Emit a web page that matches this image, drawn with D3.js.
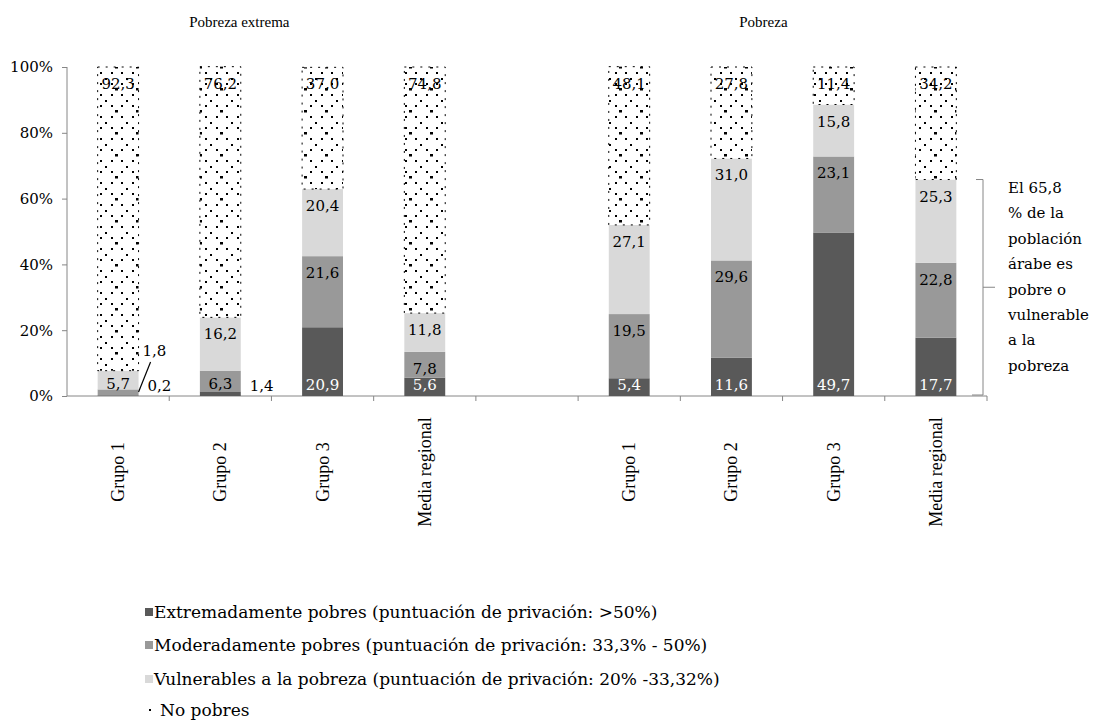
<!DOCTYPE html>
<html>
<head>
<meta charset="utf-8">
<script src="https://cdn.jsdelivr.net/npm/d3@7"></script>
<style>
  html, body { margin: 0; padding: 0; background: #fff; }
  svg { display: block; font-family: "DejaVu Serif", "Liberation Serif", serif; }
</style>
</head>
<body>
<svg id="chart" width="1096" height="721"></svg>
<script>
// Panels and categories
const panels = ["Pobreza extrema", "Pobreza"];
const groups = ["Grupo 1", "Grupo 2", "Grupo 3", "Media regional"];

// Shares of the population (%) per group, by deprivation level
const extremaExtremos    = [0.2, 1.4, 20.9, 5.6];
const extremaModerados   = [1.8, 6.3, 21.6, 7.8];
const extremaVulnerables = [5.7, 16.2, 20.4, 11.8];
const extremaNoPobres    = [92.3, 76.2, 37.0, 74.8];

const pobrezaExtremos    = [5.4, 11.6, 49.7, 17.7];
const pobrezaModerados   = [19.5, 29.6, 23.1, 22.8];
const pobrezaVulnerables = [27.1, 31.0, 15.8, 25.3];
const pobrezaNoPobres    = [48.1, 27.8, 11.4, 34.2];

const seriesNames = [
  "Extremadamente pobres (puntuación de privación: >50%)",
  "Moderadamente pobres (puntuación de privación: 33,3% - 50%)",
  "Vulnerables a la pobreza (puntuación de privación: 20% -33,32%)",
  "No pobres"
];
const seriesKeys = ["extremos", "moderados", "vulnerables", "noPobres"];
const yTicks = [0, 20, 40, 60, 80, 100];

const annotationLines = ["El 65,8", "% de la", "población", "árabe es", "pobre o", "vulnerable", "a la", "pobreza"];

// Build rows: one per bar, with a blank slot between the two panels
const panelSeries = [
  [extremaExtremos, extremaModerados, extremaVulnerables, extremaNoPobres],
  [pobrezaExtremos, pobrezaModerados, pobrezaVulnerables, pobrezaNoPobres]
];
const rows = [];
panels.forEach((p, pi) => {
  groups.forEach((g, gi) => {
    const r = { key: pi + "|" + g, panel: p, group: g };
    seriesKeys.forEach((k, si) => { r[k] = panelSeries[pi][si][gi]; });
    rows.push(r);
  });
});
const slots = rows.slice(0, 4).map(r => r.key).concat(["gap"], rows.slice(4).map(r => r.key));

const svg = d3.select("#chart");
const margin = { left: 67, right: 987, top: 67, bottom: 396 };

const x = d3.scaleBand().domain(slots).range([margin.left, margin.right]).paddingInner(0.6).paddingOuter(0.3);
const y = d3.scaleLinear().domain([0, 100]).range([margin.bottom, margin.top]);

const colors = { extremos: "#595959", moderados: "#999999", vulnerables: "#d9d9d9" };
const fmt = v => d3.format(".1f")(v).replace(".", ",");

// Dotted fill for "No pobres"
const defs = svg.append("defs");
const pat = defs.append("pattern").attr("id", "noPobres")
  .attr("patternUnits", "userSpaceOnUse").attr("width", 21).attr("height", 22);
pat.append("rect").attr("width", 21).attr("height", 22).attr("fill", "#fff");
[[10, 0, 3, 2.5], [6, 6, 2, 2], [16, 6, 2, 2], [0, 12, 2, 2], [6, 17, 2, 2], [16, 17, 2, 2]]
  .forEach(([px, py, w, h]) => pat.append("rect").attr("x", px).attr("y", py).attr("width", w).attr("height", h).attr("fill", "#000"));

// Axes
const axisColor = "#868686";
const stepW = x.step();
const yAxis = svg.append("g").attr("transform", `translate(${margin.left},0)`)
  .call(d3.axisLeft(y).tickValues(yTicks).tickSize(5).tickPadding(9).tickFormat(d => d + "%"));
yAxis.select(".domain").attr("stroke", axisColor).attr("d", `M0,${y(100)}V${y(0)}`);
yAxis.selectAll(".tick line").attr("stroke", axisColor);
yAxis.selectAll(".tick text").attr("fill", "#000").attr("font-size", 15).attr("font-family", "DejaVu Serif");

const xAxisG = svg.append("g").attr("transform", `translate(0,${margin.bottom})`);
xAxisG.append("line").attr("x1", margin.left).attr("x2", margin.right).attr("stroke", axisColor);
const boundaries = d3.range(1, slots.length + 1).map(i => margin.left + i * stepW);
xAxisG.selectAll("line.tk").data(boundaries).join("line").attr("class", "tk")
  .attr("x1", d => d).attr("x2", d => d).attr("y1", 0).attr("y2", 5).attr("stroke", axisColor);

// Category labels (rotated)
svg.append("g").selectAll("text").data(rows).join("text")
  .attr("transform", d => `translate(${x(d.key) + x.bandwidth() / 2 + 6},472) rotate(-90)`)
  .attr("text-anchor", "middle").attr("font-size", 18).attr("font-family", "Liberation Serif")
  .attr("fill", "#000")
  .text(d => d.group);

// Stacked bars
const stack = d3.stack().keys(seriesKeys);
const layers = stack(rows);
const barsG = svg.append("g");
layers.forEach((layer, si) => {
  const k = seriesKeys[si];
  barsG.append("g").selectAll("rect").data(layer).join("rect")
    .attr("x", d => x(d.data.key))
    .attr("width", x.bandwidth())
    .attr("y", d => y(d[1]))
    .attr("height", d => y(d[0]) - y(d[1]))
    .attr("fill", k === "noPobres" ? "url(#noPobres)" : colors[k])
    .attr("stroke", k === "noPobres" ? "#000" : "none")
    .attr("stroke-width", k === "noPobres" ? 1 : 0)
    .attr("stroke-dasharray", k === "noPobres" ? "2,6" : null);
});

// Value labels
const labelsG = svg.append("g").attr("font-size", 15);
layers.forEach((layer, si) => {
  layer.forEach(d => {
    const v = d.data[seriesKeys[si]];
    const cx = x(d.data.key) + x.bandwidth() / 2;
    const right = x(d.data.key) + x.bandwidth();
    if (v < 3) {
      if (si === 0) {
        labelsG.append("text").attr("x", right + 9).attr("y", y(0) - 5)
          .attr("fill", "#000").text(fmt(v));
      } else {
        labelsG.append("text").attr("x", right + 4).attr("y", y(0) - 40)
          .attr("fill", "#000").text(fmt(v));
        labelsG.append("line").attr("x1", right).attr("y1", y(0) - 4)
          .attr("x2", right + 12).attr("y2", y(0) - 34)
          .attr("stroke", "#000").attr("stroke-width", 1.2);
      }
      return;
    }
    let cy;
    if (si === 0) cy = y(0) - 11;
    else cy = Math.min(y(d[1]) + 17, y(0) - 12);
    labelsG.append("text").attr("x", cx).attr("y", cy + 5)
      .attr("text-anchor", "middle")
      .attr("fill", si === 0 ? "#fff" : "#000")
      .text(fmt(v));
  });
});

// Panel titles, placed over the second bar of each panel
const titleShift = [19, 32];
const pObj = panels.map((p, pi) => {
  const ks = rows.filter(r => r.panel === p).map(r => r.key);
  return { p, cx: x(ks[1]) + x.bandwidth() / 2 + titleShift[pi] };
});
svg.append("g").selectAll("text").data(pObj).join("text")
  .attr("x", d => d.cx).attr("y", 27)
  .attr("text-anchor", "middle").attr("font-size", 15).attr("font-family", "Liberation Serif")
  .attr("fill", "#000").text(d => d.p);

// Bracket around the regional average for "Pobreza"
const lastRow = rows[rows.length - 1];
const poorShare = lastRow.extremos + lastRow.moderados + lastRow.vulnerables;
const bx = margin.right - 4;
const yTop = y(poorShare), yBot = y(0) - 1, yMid = (yTop + yBot) / 2;
svg.append("path")
  .attr("d", `M${bx - 7},${yTop}H${bx}V${yBot}H${bx - 11}M${bx},${yMid}H${bx + 12}`)
  .attr("fill", "none").attr("stroke", axisColor).attr("stroke-width", 1);
svg.append("g").selectAll("text").data(annotationLines).join("text")
  .attr("x", 1008).attr("y", (d, i) => 193 + i * 25.4)
  .attr("font-size", 15).attr("fill", "#000").text(d => d);

// Legend
const legendG = svg.append("g").attr("font-size", 17);
const legendY = [612, 645, 679, 711];
seriesKeys.forEach((k, i) => {
  const g = legendG.append("g").attr("transform", `translate(145,${legendY[i]})`);
  if (k === "noPobres") {
    g.append("rect").attr("x", 4).attr("y", -2).attr("width", 2).attr("height", 2).attr("fill", "#000");
    g.append("text").attr("x", 15).attr("y", 5).attr("fill", "#000").text(seriesNames[i]);
  } else {
    g.append("rect").attr("x", 0).attr("y", -4).attr("width", 8).attr("height", 8).attr("fill", colors[k]);
    g.append("text").attr("x", 9).attr("y", 6).attr("fill", "#000").text(seriesNames[i]);
  }
});
</script>
</body>
</html>
